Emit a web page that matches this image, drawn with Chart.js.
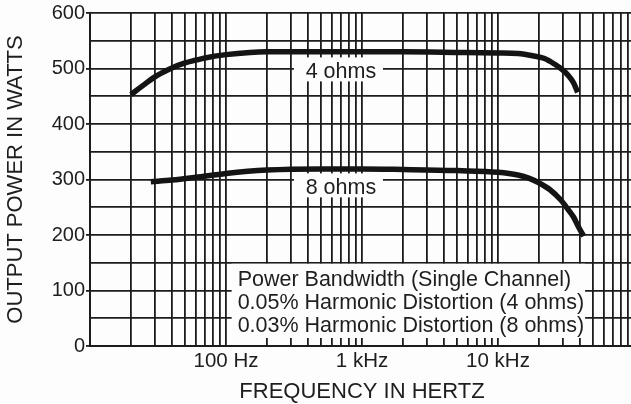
<!DOCTYPE html>
<html>
<head>
<meta charset="utf-8">
<script src="https://cdn.jsdelivr.net/npm/chart.js@4.4.1/dist/chart.umd.min.js"></script>
<style>
  html, body { margin: 0; padding: 0; overflow: hidden; background: #fdfdfd; }
  #chart { display: block; }
</style>
</head>
<body>
<canvas id="chart" width="637" height="404"></canvas>
<script>
// grid ticks on the frequency axis (1..9 per decade), labels only at the decades
const freqTicks = [10, 20, 30, 40, 50, 60, 70, 80, 90,
                   100, 200, 300, 400, 500, 600, 700, 800, 900,
                   1000, 2000, 3000, 4000, 5000, 6000, 7000, 8000, 9000,
                   10000, 20000, 30000, 40000, 50000, 60000, 70000, 80000, 90000,
                   100000];
const freqLabels = { 100: '100 Hz', 1000: '1 kHz', 10000: '10 kHz' };
const powerTicks = [0, 50, 100, 150, 200, 250, 300, 350, 400, 450, 500, 550, 600];

// 4 ohm curve
const freq4  = [20, 25, 30, 35, 40, 50, 60, 70, 100, 150, 200, 500, 1000, 2000, 5000, 10000, 14000, 18000, 22000, 26000, 30000, 33000, 36000, 38500];
const watts4 = [453, 471, 485, 494, 501, 510, 515, 519, 525, 529, 530, 530, 530, 530, 529, 528, 527, 523, 518, 508, 497, 487, 474, 457];

// 8 ohm curve
const freq8  = [28, 40, 60, 100, 200, 500, 1000, 2000, 5000, 10000, 14000, 17000, 20000, 24000, 29000, 33000, 36000, 39000, 42700];
const watts8 = [296, 299, 304, 311, 317, 319, 319, 318, 316, 313, 308, 302, 294, 282, 263, 245, 232, 215, 198];

const curveLabels = ['4 ohms', '8 ohms'];
const noteLines = [
  'Power Bandwidth (Single Channel)',
  '0.05% Harmonic Distortion (4 ohms)',
  '0.03% Harmonic Distortion (8 ohms)'
];

const PAPER = '#fdfdfd';
const INK = '#1e1e1e';
const FONT = "'Liberation Sans', Arial, Helvetica, sans-serif";

function blank(ctx, x0, y0, x1, y1) {
  ctx.fillStyle = PAPER;
  ctx.fillRect(x0, y0, x1 - x0, y1 - y0);
}

// white label patches over the grid, like the printed chart
const labelPlugin = {
  id: 'labelPlugin',
  beforeDatasetsDraw(chart) {
    const ctx = chart.ctx;
    const x = chart.scales.x, y = chart.scales.y;
    ctx.save();
    ctx.font = '21.5px ' + FONT;
    ctx.textBaseline = 'middle';

    const lx = x.getPixelForValue(700);
    [[curveLabels[0], 493], [curveLabels[1], 284]].forEach(([txt, w]) => {
      const ly = y.getPixelForValue(w);
      blank(ctx, lx - 47, ly - 15, lx + 42, ly + 9);
      ctx.fillStyle = INK;
      ctx.textAlign = 'center';
      ctx.fillText(txt, lx, ly);
    });

    const bx0 = x.getPixelForValue(110), bx1 = x.getPixelForValue(43700);
    const by0 = y.getPixelForValue(150) + 1, by1 = y.bottom - 8;
    blank(ctx, bx0, by0, bx1, by1);
    ctx.fillStyle = INK;
    ctx.textAlign = 'left';
    noteLines.forEach((txt, i) => ctx.fillText(txt, bx0 + 6, by0 + 16.5 + i * 23));
    ctx.restore();
  }
};

const toPoints = (fs, ws) => fs.map((f, i) => ({ x: f, y: ws[i] }));

new Chart(document.getElementById('chart'), {
  type: 'line',
  data: {
    datasets: [
      { label: curveLabels[0], data: toPoints(freq4, watts4) },
      { label: curveLabels[1], data: toPoints(freq8, watts8) }
    ]
  },
  options: {
    responsive: false,
    animation: false,
    layout: { padding: { top: 13, left: 0, right: 0, bottom: 0 } },
    elements: {
      line: { borderColor: '#141414', borderWidth: 5.5, cubicInterpolationMode: 'monotone', fill: false },
      point: { radius: 0 }
    },
    plugins: { legend: { display: false }, tooltip: { enabled: false } },
    scales: {
      x: {
        type: 'logarithmic',
        min: 10,
        max: 100000,
        afterBuildTicks: s => { s.ticks = freqTicks.map(v => ({ value: v })); },
        afterFit: s => { s.height = 58; },
        ticks: {
          autoSkip: false,
          maxRotation: 0,
          padding: 3,
          color: INK,
          font: { family: FONT, size: 20.5 },
          callback: v => freqLabels[v] || ''
        },
        grid: { color: '#1c1c1c', lineWidth: 1.8, drawTicks: false },
        border: { color: '#1c1c1c', width: 2 },
        title: {
          display: true,
          text: 'FREQUENCY IN HERTZ',
          color: INK,
          font: { family: FONT, size: 22, lineHeight: 1 },
          padding: { top: 0, bottom: 1 }
        }
      },
      y: {
        min: 0,
        max: 600,
        afterBuildTicks: s => { s.ticks = powerTicks.map(v => ({ value: v })); },
        afterFit: s => { s.width = 90; },
        ticks: {
          padding: 1,
          color: INK,
          font: { family: FONT, size: 20 },
          callback: v => (v % 100 === 0 ? String(v) : '')
        },
        grid: {
          color: '#1c1c1c',
          lineWidth: 1.8,
          tickLength: 4,
          tickColor: c => (c.tick && c.tick.value % 100 === 0 ? '#1c1c1c' : 'rgba(0,0,0,0)')
        },
        border: { color: '#1c1c1c', width: 2 },
        title: {
          display: true,
          text: 'OUTPUT POWER IN WATTS',
          color: INK,
          font: { family: FONT, size: 22, lineHeight: 1 },
          padding: { top: 5, bottom: 0 }
        }
      }
    }
  },
  plugins: [labelPlugin]
});
</script>
</body>
</html>
